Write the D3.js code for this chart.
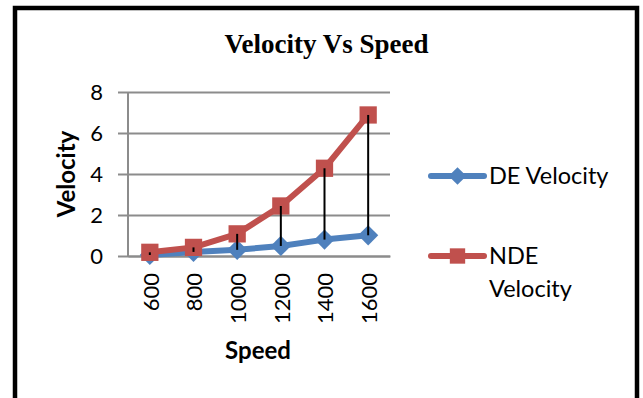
<!DOCTYPE html>
<html>
<head>
<meta charset="utf-8">
<script src="https://cdn.jsdelivr.net/npm/d3@7"></script>
<style>
  body { margin: 0; background: #fff; }
  svg { display: block; }
</style>
</head>
<body>
<svg id="chart_svg" width="643" height="398"></svg>
<script>
// chart data
var speeds = ["600", "800", "1000", "1200", "1400", "1600"];
var deVelocity = [0.05, 0.2, 0.3, 0.49, 0.8, 1.01];
var ndeVelocity = [0.18, 0.42, 1.08, 2.44, 4.28, 6.88];
var yTicks = [0, 2, 4, 6, 8];
var seriesNames = ["DE Velocity", "NDE Velocity"];

var BLUE = "#4f81bd", RED = "#c0504d", GRID = "#8c8c8c";
var FONT = "Lato, 'Open Sans', sans-serif";
var PLOT = { LEFT: 128, RIGHT: 390, TOP: 92, BOTTOM: 256 };

var svg = d3.select("#chart_svg");

// outer frame
svg.append("rect").attr("x", 15).attr("y", 8).attr("width", 622).attr("height", 400)
  .attr("fill", "#fff").attr("stroke", "#000").attr("stroke-width", 4.5);

var x = d3.scaleBand().domain(speeds).range([PLOT.LEFT, PLOT.RIGHT]);
var y = d3.scaleLinear().domain([0, 8]).range([PLOT.BOTTOM, PLOT.TOP]);

// gridlines + y axis
var yAxis = svg.append("g").attr("transform", "translate(" + PLOT.LEFT + ",0)")
  .call(d3.axisLeft(y).tickValues(yTicks).tickSize(-(PLOT.RIGHT - PLOT.LEFT)).tickPadding(25));
yAxis.select(".domain").remove();
yAxis.selectAll(".tick line").attr("stroke", GRID).attr("stroke-width", 2).attr("x1", -10);
yAxis.selectAll(".tick text").attr("font-family", FONT).attr("font-size", 22).attr("fill", "#000");

svg.append("line").attr("x1", PLOT.LEFT).attr("x2", PLOT.LEFT).attr("y1", PLOT.TOP).attr("y2", PLOT.BOTTOM)
  .attr("stroke", GRID).attr("stroke-width", 2);

// x axis
var xAxis = svg.append("g").attr("transform", "translate(0," + PLOT.BOTTOM + ")")
  .call(d3.axisBottom(x).tickSize(0).tickPadding(0));
xAxis.select(".domain").attr("stroke", GRID).attr("stroke-width", 2);
xAxis.selectAll(".tick text").attr("font-family", FONT).attr("font-size", 22).attr("fill", "#000")
  .attr("transform", "rotate(-90)").attr("text-anchor", "end").attr("dy", "0.35em")
  .attr("x", -17).attr("y", 1);

// axis titles
svg.append("text").attr("x", 258).attr("y", 359).attr("text-anchor", "middle")
  .attr("font-family", FONT).attr("font-weight", "bold").attr("font-size", 24).text("Speed");
svg.append("text").attr("transform", "translate(75,174) rotate(-90)").attr("text-anchor", "middle")
  .attr("font-family", FONT).attr("font-weight", "bold").attr("font-size", 24).text("Velocity");

// chart title
svg.append("text").attr("x", 326.5).attr("y", 53).attr("text-anchor", "middle")
  .attr("font-family", "'Liberation Serif', 'Times New Roman', serif").attr("font-weight", "bold")
  .attr("font-size", 27).text("Velocity Vs Speed");

var line = d3.line().x(function (d, i) { return x(speeds[i]) + x.bandwidth() / 2; })
  .y(function (d) { return y(d); });

var diamond = d3.symbol().type(d3.symbolDiamond2);
var square = d3.symbol().type(d3.symbolSquare2);

// DE series
svg.append("path").datum(deVelocity).attr("d", line).attr("fill", "none")
  .attr("stroke", BLUE).attr("stroke-width", 6).attr("stroke-linejoin", "round");
svg.selectAll(".de").data(deVelocity).enter().append("path")
  .attr("transform", function (d, i) { return "translate(" + (x(speeds[i]) + x.bandwidth() / 2) + "," + y(d) + ")"; })
  .attr("d", diamond.size(260)).attr("fill", BLUE);

// NDE series
svg.append("path").datum(ndeVelocity).attr("d", line).attr("fill", "none")
  .attr("stroke", RED).attr("stroke-width", 6).attr("stroke-linejoin", "round");
svg.selectAll(".nde").data(ndeVelocity).enter().append("path")
  .attr("transform", function (d, i) { return "translate(" + (x(speeds[i]) + x.bandwidth() / 2) + "," + y(d) + ")"; })
  .attr("d", square.size(380)).attr("fill", RED);

// high-low lines
svg.selectAll(".hilo").data(speeds).enter().append("line")
  .attr("x1", function (d) { return x(d) + x.bandwidth() / 2; })
  .attr("x2", function (d) { return x(d) + x.bandwidth() / 2; })
  .attr("y1", function (d, i) { return y(ndeVelocity[i]); })
  .attr("y2", function (d, i) { return y(deVelocity[i]); })
  .attr("stroke", "#000").attr("stroke-width", 2);

// legend
var legend = svg.append("g");
var legendRows = [
  { name: seriesNames[0], color: BLUE, marker: diamond.size(200), y: 176, lines: ["DE Velocity"] },
  { name: seriesNames[1], color: RED, marker: square.size(300), y: 256, lines: ["NDE", "Velocity"] }
];
legendRows.forEach(function (r) {
  legend.append("line").attr("x1", 431).attr("x2", 484).attr("y1", r.y).attr("y2", r.y)
    .attr("stroke", r.color).attr("stroke-width", 6).attr("stroke-linecap", "round");
  legend.append("path").attr("transform", "translate(457.5," + r.y + ")").attr("d", r.marker).attr("fill", r.color);
  var t = legend.append("text").attr("font-family", FONT).attr("font-size", 23.5).attr("x", 489).attr("y", r.y + 8);
  r.lines.forEach(function (s, k) {
    t.append("tspan").attr("x", 489).attr("dy", k === 0 ? 0 : 33).text(s);
  });
});
</script>
</body>
</html>
